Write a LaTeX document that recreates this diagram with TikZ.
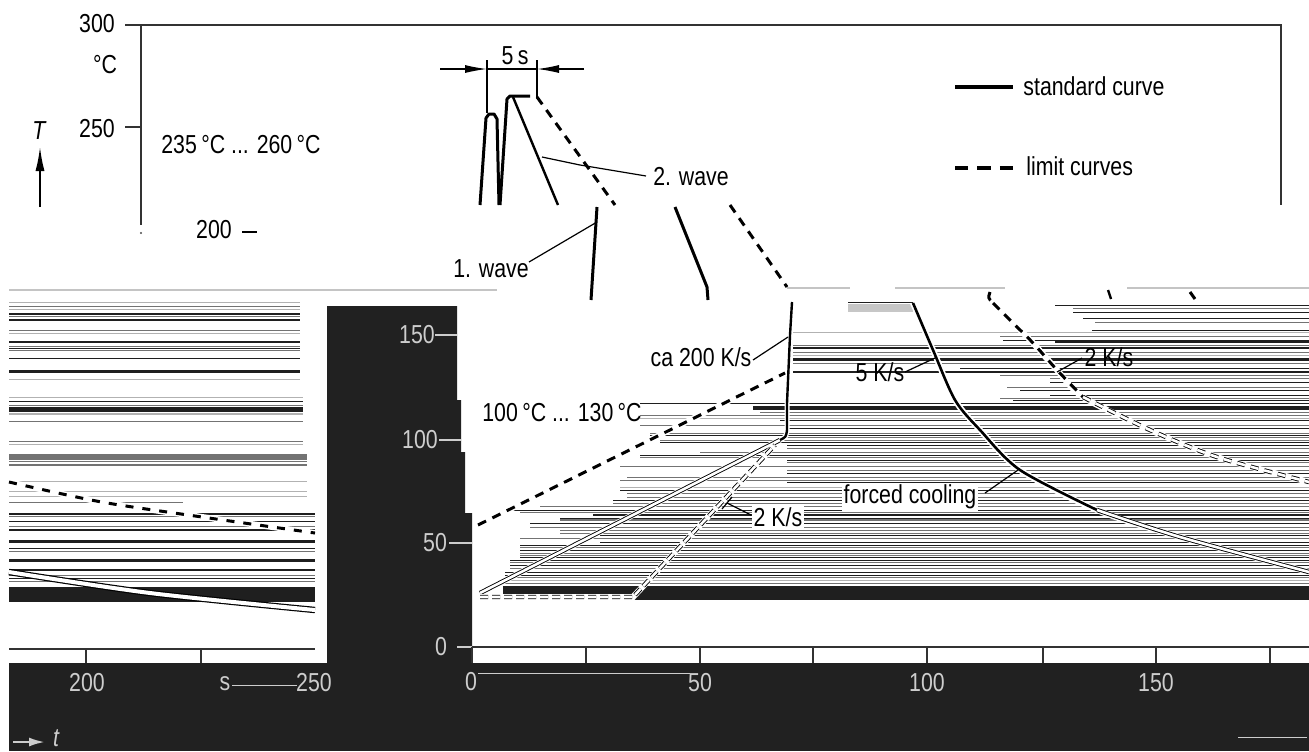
\documentclass[tikz,border=0pt]{standalone}
\usepackage{fontspec}
\setmainfont{Liberation Sans}[FakeStretch=0.82]
\usetikzlibrary{arrows.meta}
\definecolor{darkbg}{HTML}{212121}
\definecolor{lbl}{HTML}{CDCDCD}
\definecolor{rulec}{HTML}{C4C4C4}
\colorlet{sk}{black!88}
\colorlet{sg}{black!55}
\colorlet{sl}{black!30}
\begin{document}
\begin{tikzpicture}[x=0.5pt,y=-0.5pt,
  every node/.style={inner sep=0pt, font=\fontsize{13}{15}\selectfont},
  std/.style={line width=1.5pt},
  thinl/.style={line width=0.6pt},
  lim/.style={line width=1.5pt, dash pattern=on 4.5pt off 3.5pt},
  ghost/.style={draw=black, double=white, line width=0.45pt, double distance=1.3pt},
  halo/.style={white, line width=3pt},
  dl/.style={text=lbl},
  ax/.style={line width=0.8pt, draw=black!80}]
\useasboundingbox (0,0) rectangle (1309,751);
\fill[white] (0,0) rectangle (1309,751);
% ---------- dark areas
\fill[darkbg] (9,663) rectangle (1309,751);
\fill[darkbg] (327,306) -- (457,306) -- (457,400) -- (461,400) -- (461,452) -- (465,452)
  -- (465,513) -- (472,513) -- (472,663) -- (327,663) -- cycle;
% ---------- separator lines
\draw[rulec, line width=0.8pt] (9,290) -- (497,290);
\draw[rulec, line width=0.8pt] (787,288) -- (850,288);
\draw[rulec, line width=0.8pt] (895,288) -- (1005,288);
\draw[rulec, line width=0.8pt] (1127,288) -- (1309,288);
% ---------- top panel frame and axis
\draw[ax] (125,25) -- (1281,25) -- (1281,205);
\draw[ax] (141,25) -- (141,225);
\draw[ax] (125,127) -- (141,127);
\fill[black!70] (141,233) circle (1.2);
\node (t300) at (97,24) {300};
\node (tdegC) at (105,65) {°C};
\node (t250) at (97,129) {250};
\node[font=\fontsize{13}{15}\selectfont\itshape] (tT) at (39,131) {T};
\draw[line width=0.8pt, -{Latex[length=12pt,width=4.5pt]}] (40,207) -- (40,147);
\node (trange) at (241,145) {235\,°C ... 260\,°C};
\node (t200) at (214,230) {200};
\draw[line width=0.8pt] (242,232) -- (257,232);
% legend
\draw[line width=2pt] (955,87) -- (1013,87);
\node[anchor=west] (lstd) at (1023,86) {standard curve};
\draw[line width=2pt, dash pattern=on 6.6pt off 4.6pt] (955,168) -- (1013,168);
\node[anchor=west] (llim) at (1026,166) {limit curves};
% 5 s dimension
\draw[thinl] (487,60) -- (487,113);
\draw[thinl] (537,60) -- (537,98);
\draw[thinl, -{Latex[length=11pt,width=4pt]}] (440,69) -- (487,69);
\draw[thinl, -{Latex[length=11pt,width=4pt]}] (584,69) -- (537,69);
\draw[thinl] (487,69) -- (537,69);
\node (t5s) at (515,56) {5\,s};
% waves
\draw[std, line join=round] (480,205) -- (486,118) -- (489,114) -- (494,114) -- (497,119) -- (499,205);
\draw[std, line join=round] (500,205) -- (507,99) -- (510,96) -- (530,96);
\draw[line width=1.2pt] (513,97) -- (558,205);
\draw[lim] (537,97) -- (615,205);
\node (w2) at (691,177) {2. wave};
\coordinate (w2a) at (542,157);
\draw[thinl] (w2a) -- (580,165) -- (646,176);
% shifted strip below
\draw[std] (597,207) -- (591,300);
\draw[std, line join=round] (675,207) -- (707,287) -- (708,300);
\draw[lim] (730,205) -- (787,287);
\node (w1) at (491,269) {1. wave};
\coordinate (w1a) at (597,222);
\draw[thinl] (529,262) -- (w1a);
% ---------- left panel streaks
\foreach \yy/\xe/\cc/\ww in {302.7/300/sl/0.5pt,306.7/300/sg/0.75pt,309.3/300/sl/0.5pt,314/300/sk/0.75pt,
 316.7/300/sg/0.5pt,320/300/sk/0.75pt,330.7/300/sg/0.5pt,333.3/300/sl/0.5pt,341.7/300/sk/1pt,346/300/sg/0.5pt,
 348.3/300/sk/0.75pt,350.7/300/sg/0.5pt,358.3/300/sk/0.75pt,371.5/300/sk/1.75pt,379.3/300/sl/0.5pt,
 397.3/303/sl/0.5pt,401/303/sk/0.5pt,405/303/sg/0.5pt,409.5/303/sk/2.25pt,413.5/303/sl/1pt,421.7/303/sg/0.75pt,
 441.7/303/sg/0.75pt,444/303/sl/0.5pt,456.5/307/sg/3pt,461.7/307/sg/0.5pt,465/307/sg/0.75pt,481.7/307/sl/0.5pt,
 491.7/307/sl/0.75pt,496.7/307/sl/0.5pt,502.7/183/sg/0.5pt,514/315/sk/0.75pt,516.7/315/sg/0.5pt,
 521.7/315/sk/0.75pt,526.7/315/sg/0.5pt,530/315/sk/0.75pt,541.5/315/sk/1.75pt,548.3/315/sk/0.75pt,
 551.7/315/sg/0.5pt,560/315/sk/1.5pt,570/315/sk/0.75pt,575/315/sg/0.5pt,578.3/315/sk/0.75pt,581.7/315/sg/0.5pt}
 { \draw[\cc, line width=\ww] (9,\yy) -- (\xe,\yy); }
\fill[sk] (9,587) rectangle (315,602);
% left panel curves
\draw[halo] plot[smooth] coordinates {(9,482) (100,501.7) (200,516.7) (315,533)};
\draw[line width=1.5pt, dash pattern=on 4pt off 4.5pt] plot[smooth] coordinates {(9,482) (100,501.7) (200,516.7) (315,533)};
\draw[ghost, line width=0.6pt, double distance=2pt] plot[smooth] coordinates {(9,572) (150,593) (315,610)};
% left panel axis
\draw[ax] (9,649) -- (315,649);
\draw[ax] (86,649) -- (86,663);
\draw[ax] (201,649) -- (201,663);
\node[dl] (l200) at (87,683) {200};
\node[dl] (ls) at (225,684) {s};
\node[dl] (l250) at (314,683) {250};
\draw[lbl, line width=0.5pt] (232,685) -- (297,685);
\draw[lbl, line width=1.2pt, -{Latex[length=8pt,width=4.5pt]}] (13,742) -- (45,742);
\node[dl, font=\fontsize{13}{15}\selectfont\itshape] (lt) at (56,738) {t};
% ---------- y labels in dark block
\node[dl] (y150) at (417,335) {150};
\draw[lbl, line width=0.6pt] (435,335) -- (457,335);
\node[dl] (y100) at (420,440) {100};
\draw[lbl, line width=0.6pt] (439,440) -- (461,440);
\node[dl] (y50) at (435,543) {50};
\draw[lbl, line width=0.6pt] (449,543) -- (472,543);
\node[dl] (y0) at (441,647) {0};
\draw[lbl, line width=0.6pt] (457,647) -- (472,647);
% ---------- main panel streaks
\fill[black!22] (848,304) rectangle (913,312);
\draw[sk, line width=0.5pt] (848,302) -- (913,302);
\foreach \yy/\xs/\cc/\ww in {305/1055/sk/0.5pt,308/1073/sg/0.5pt,312/1073/sk/0.5pt,318/1083/sk/0.5pt,322/1095/sg/0.5pt,330/1092/sk/0.5pt,
 332/793/sl/0.5pt,336/1000/sg/0.5pt,340/1003/sk/0.5pt,341.5/1055/sk/1pt,345/793/sg/0.5pt,348/793/sk/0.75pt,352/793/sg/0.5pt,355/793/sl/0.5pt,359/793/sk/1.5pt,
 363/793/sg/0.5pt,368/960/sk/0.5pt,372/793/sk/0.75pt,375/1000/sg/0.5pt,378/1050/sg/0.5pt,382/1050/sk/0.5pt,387/1007/sg/0.5pt,390/1020/sk/0.5pt,
 395/1050/sk/0.5pt,398/1000/sg/0.5pt,400/1013/sk/0.5pt,
 403/640/sk/0.5pt,408/753/sk/2pt,412/760/sg/0.5pt,415/640/sg/0.5pt,418/640/sl/0.5pt,420/780/sk/0.5pt,425/640/sg/0.5pt,428/787/sk/0.5pt,
 433/650/sg/0.5pt,435/650/sk/0.5pt,437/787/sg/0.5pt,440/660/sg/0.5pt,442/660/sk/0.5pt,445/787/sk/0.5pt,448/787/sg/0.5pt,452/700/sg/0.5pt,
 455/640/sk/0.5pt,457/640/sg/0.5pt,460/787/sk/0.5pt,462/787/sg/0.5pt,466/620/sg/0.5pt,470/787/sg/0.5pt,473/787/sk/0.5pt,
 477/627/sg/0.5pt,480/620/sg/0.5pt,482/787/sk/0.5pt,487/620/sl/0.5pt,490/620/sk/0.5pt,493/627/sg/0.5pt,497/627/sg/0.5pt,
 500/613/sk/0.5pt,503/613/sg/0.5pt,506/540/sg/0.5pt,510/503/sk/0.5pt,512/520/sg/0.5pt,
 515/593/sk/1.25pt,518/560/sk/0.5pt,520/560/sg/0.75pt,523/530/sk/0.5pt,527/530/sg/0.5pt,530/560/sg/0.5pt,533/560/sg/0.5pt,535/600/sk/0.5pt,538/520/sg/0.5pt,
 542/600/sk/0.5pt,545/520/sk/0.5pt,547/520/sg/0.5pt,550/520/sk/0.5pt,553/520/sg/0.5pt,555/520/sg/0.5pt,557/520/sk/0.5pt,560/510/sk/0.5pt,562/510/sg/0.5pt,
 565/510/sk/0.5pt,568/510/sg/0.5pt,572/505/sk/0.5pt,575/505/sk/0.5pt,577/505/sg/0.5pt,580/505/sl/0.5pt,583/505/sg/0.5pt}
 { \draw[\cc, line width=\ww] (\xs,\yy) -- (1309,\yy); }
\fill[sk] (503,586) rectangle (1309,600);
% ---------- main panel axis
\draw[ax] (472,647) -- (1309,647);
\foreach \xx in {472,586,700,813,927,1043,1156,1270} { \draw[ax] (\xx,647) -- (\xx,663); }
\node[dl] (x0) at (471,682) {0};
\draw[lbl, line width=0.5pt] (478,673) -- (690,673);
\node[dl] (x50) at (700,683) {50};
\node[dl] (x100) at (927,683) {100};
\node[dl] (x150) at (1156,683) {150};
\draw[lbl, line width=0.4pt] (1238,737) -- (1307,737);
% ---------- main panel curves
% preheat standard
\draw[halo] (480,593) -- (780,440);
\draw[ghost] (480,593) -- (780,440);
\draw[halo, line width=2.5pt] (780,440) .. controls (786,437) .. (787,430) -- (787,403);
\draw[line width=1.2pt] (780,440) .. controls (786,437) .. (787,430) -- (787,403) -- (790,335) -- (792,302);
% upper limit
\draw[halo] (478,525) -- (785,373);
\draw[lim] (478,525) -- (785,373);
% lower limit
\draw[halo] (480,597) -- (633,597) -- (775,445);
\draw[ghost, dash pattern=on 4pt off 2pt] (480,597) -- (633,597) -- (775,445);
% cooling, forced
\draw[halo] plot[smooth] coordinates {(913,303) (933,350) (955,400) (980,430) (1020,470) (1097,510) (1180,537) (1309,572)};
\draw[line width=1.3pt] plot[smooth] coordinates {(913,303) (933,350) (955,400) (980,430) (1020,470) (1097,510)};
\draw[ghost] plot[smooth] coordinates {(1097,510) (1180,537) (1309,572)};
% cooling, upper limit
\draw[halo] plot[smooth] coordinates {(993,303) (1013,323) (1033,343) (1057,370) (1083,397) (1150,430) (1217,457) (1309,482)};
\draw[lim] (990,292) .. controls (988,298) .. (993,303);
\draw[lim] plot[smooth] coordinates {(993,303) (1013,323) (1033,343) (1057,370) (1083,397)};
\draw[ghost, dash pattern=on 4pt off 3pt] plot[smooth] coordinates {(1083,397) (1150,430) (1217,457) (1309,482)};
\draw[line width=1.2pt] (1108,290) -- (1111,299);
\draw[line width=1.5pt] (1190,292) -- (1195,299);
% labels and leaders
\node (ca) at (701,357) {ca 200 K/s};
\coordinate (caA) at (788,337);
\draw[thinl] (753,360) -- (caA);
\node (pre) at (562,413) {100\,°C ... 130\,°C};
\node[fill=white, inner sep=1pt] (k2a) at (778,517) {2 K/s};
\coordinate (k2aA) at (727,503);
\draw[thinl] (751,515) -- (k2aA);
\draw[thinl] (722,509) -- (732,497);
\node (k5) at (880,372) {5 K/s};
\coordinate (k5A) at (935,358);
\draw[thinl] (905,372) -- (k5A);
\node[fill=white, inner sep=1pt] (fc) at (910,497) {forced cooling};
\coordinate (fcA) at (1018,470);
\draw[thinl] (985,493) -- (fcA);
\node (k2b) at (1109,357) {2 K/s};
\coordinate (k2bA) at (1057,372);
\draw[thinl] (1082,358) -- (k2bA);
\end{tikzpicture}
\end{document}
